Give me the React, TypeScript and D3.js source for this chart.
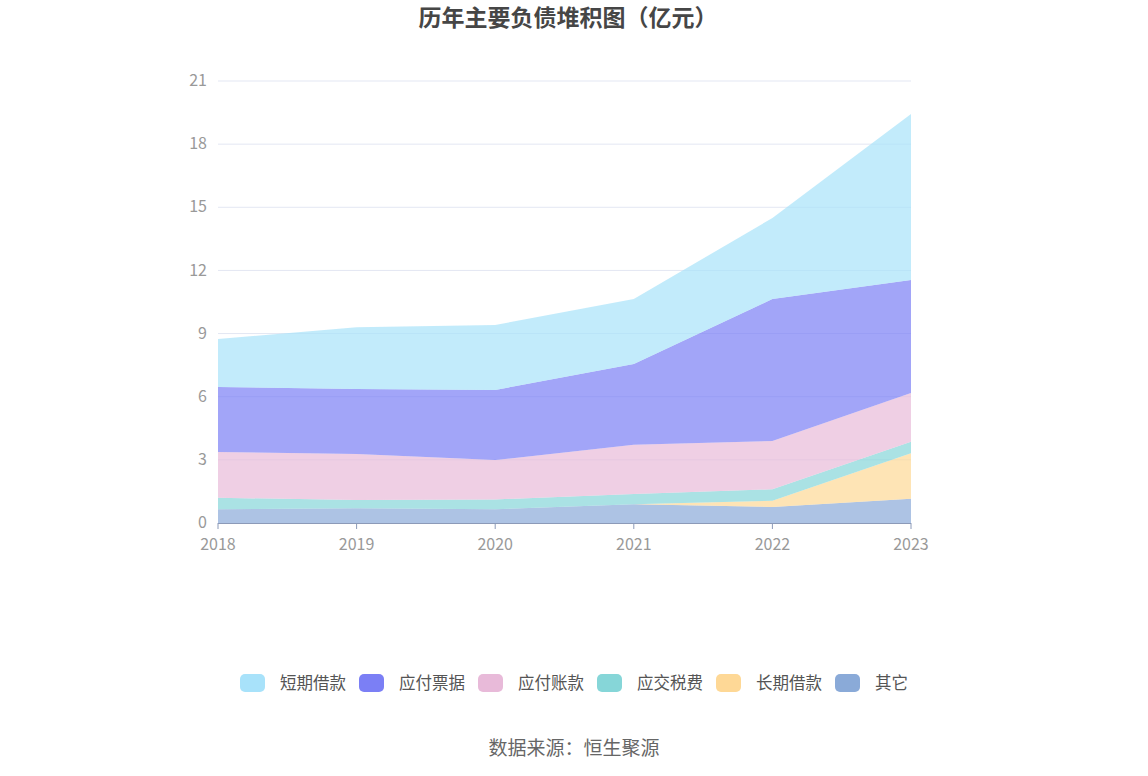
import * as React from "react";
import * as d3 from "d3";

// values in 亿元
const years = ["2018", "2019", "2020", "2021", "2022", "2023"];
const seriesNames = ["其它", "长期借款", "应交税费", "应付账款", "应付票据", "短期借款"];
const other = [0.65, 0.7, 0.65, 0.89, 0.76, 1.15];
const longLoan = [0, 0, 0, 0, 0.3, 2.16];
const taxes = [0.55, 0.39, 0.47, 0.49, 0.54, 0.55];
const payables = [2.17, 2.19, 1.87, 2.34, 2.3, 2.32];
const notes = [3.09, 3.09, 3.33, 3.83, 6.74, 5.36];
const shortLoan = [2.28, 2.93, 3.09, 3.09, 3.85, 7.89];
const yTicks = [0, 3, 6, 9, 12, 15, 18, 21];
const legendOrder = ["短期借款", "应付票据", "应付账款", "应交税费", "长期借款", "其它"];

const colors: Record<string, string> = {
  "短期借款": "#a8e2fa",
  "应付票据": "#7b7ff5",
  "应付账款": "#e8bad9",
  "应交税费": "#86d6d8",
  "长期借款": "#fed896",
  "其它": "#8aaad8",
};

const W = 1148;
const H = 776;
const FONT = "'Noto Sans CJK SC', 'Noto Sans', sans-serif";

export default function App() {
  const ref = React.useRef<SVGSVGElement>(null);

  React.useEffect(() => {
    const svg = d3.select(ref.current);
    svg.selectAll("*").remove();

    const values = [other, longLoan, taxes, payables, notes, shortLoan];
    const rows = years.map((y, i) => {
      const r: any = { year: y };
      seriesNames.forEach((n, k) => (r[n] = values[k][i]));
      return r;
    });
    const stacked = d3.stack().keys(seriesNames)(rows);

    const x = d3.scalePoint().domain(years).range([218, 911]);
    const y = d3.scaleLinear().domain([0, 21]).range([523, 81]);

    // grid
    svg.append("g")
      .selectAll("line")
      .data(yTicks.filter(t => t > 0))
      .join("line")
      .attr("x1", 218).attr("x2", 911)
      .attr("y1", d => y(d)).attr("y2", d => y(d))
      .attr("stroke", "#e3e7f3").attr("stroke-width", 1);

    const area = d3.area<any>()
      .x(d => x(d.data.year)!)
      .y0(d => y(d[0]))
      .y1(d => y(d[1]));

    svg.append("g")
      .selectAll("path")
      .data(stacked)
      .join("path")
      .attr("d", area)
      .attr("fill", d => colors[d.key])
      .attr("fill-opacity", 0.7);

    // y labels
    svg.append("g")
      .selectAll("text")
      .data(yTicks)
      .join("text")
      .attr("x", 207).attr("y", d => y(d))
      .attr("dy", "0.32em")
      .attr("text-anchor", "end")
      .attr("fill", "#999")
      .attr("font-size", 16)
      .attr("font-family", FONT)
      .text(d => d);

    // x axis
    const xa = svg.append("g");
    xa.append("line")
      .attr("x1", 218).attr("x2", 911).attr("y1", 523.5).attr("y2", 523.5)
      .attr("stroke", "#8c9ab8");
    xa.selectAll("line.tick")
      .data(years)
      .join("line")
      .attr("class", "tick")
      .attr("x1", d => x(d)!).attr("x2", d => x(d)!)
      .attr("y1", 523).attr("y2", 529)
      .attr("stroke", "#8c9ab8");
    xa.selectAll("text")
      .data(years)
      .join("text")
      .attr("x", d => x(d)!).attr("y", 550)
      .attr("text-anchor", "middle")
      .attr("fill", "#999")
      .attr("font-size", 16)
      .attr("font-family", FONT)
      .text(d => d);

    // title
    svg.append("text")
      .attr("x", 568).attr("y", 26)
      .attr("text-anchor", "middle")
      .attr("font-size", 23).attr("font-weight", "bold")
      .attr("fill", "#464646")
      .attr("font-family", FONT)
      .text("历年主要负债堆积图（亿元）");

    // legend
    const lg = svg.append("g")
      .selectAll("g")
      .data(legendOrder)
      .join("g")
      .attr("transform", (d, i) => `translate(${240 + i * 119},674)`);
    lg.append("rect")
      .attr("width", 25).attr("height", 18).attr("rx", 5)
      .attr("fill", d => colors[d]);
    lg.append("text")
      .attr("x", 40).attr("y", 9).attr("dy", "0.35em")
      .attr("font-size", 16.5).attr("fill", "#555")
      .attr("font-family", FONT)
      .text(d => d);

    svg.append("text")
      .attr("x", 574).attr("y", 755)
      .attr("text-anchor", "middle")
      .attr("font-size", 19).attr("fill", "#666")
      .attr("font-family", FONT)
      .text("数据来源：恒生聚源");
  }, []);

  return (
    <svg ref={ref} width={W} height={H} style={{ display: "block", position: "absolute", left: 0, top: 0 }} />
  );
}
